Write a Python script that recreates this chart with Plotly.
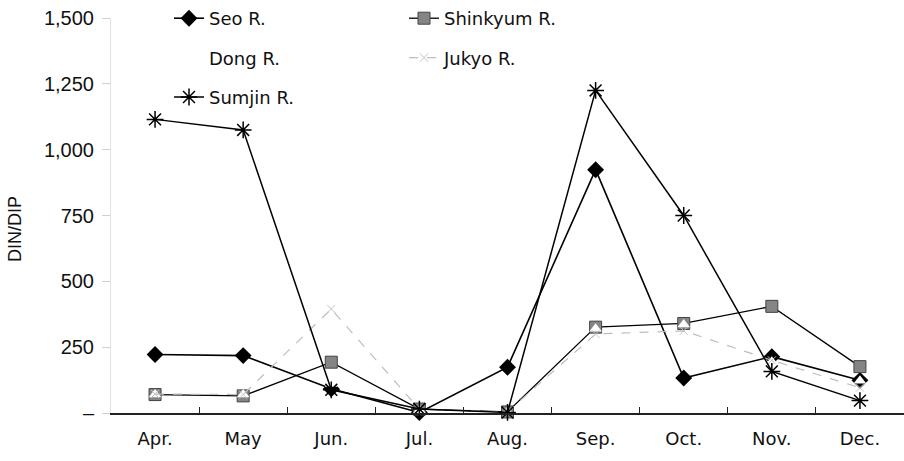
import plotly.graph_objects as go

months = ["Apr.", "May", "Jun.", "Jul.", "Aug.", "Sep.", "Oct.", "Nov.", "Dec."]

seo = [222, 218, 92, 2, 174, 924, 133, 214, 124]
shinkyum = [70, 65, 193, 15, 4, 326, 340, 405, 176]
dong = [70, 70, 110, 10, 5, 320, 336, 195, 122]
jukyo = [72, 70, 395, 14, 5, 300, 312, 200, 96]
sumjin = [1115, 1075, 88, 15, 2, 1225, 750, 158, 47]

y_tick_vals = [0, 250, 500, 750, 1000, 1250, 1500]
y_tick_text = ["–", "250", "500", "750", "1,000", "1,250", "1,500"]

W, H = 904, 461
ML, MR, MT, MB = 111, 0, 18, 48
PW = W - ML - MR
PH = H - MT - MB

LEG_FONT = dict(family="DejaVu Sans", size=18, color="#111111")

fig = go.Figure()

fig.add_trace(go.Scatter(
    x=months, y=seo, name="Seo R.", mode="lines+markers",
    line=dict(color="black", width=1.6),
    marker=dict(symbol="diamond", size=13, color="black"),
    legend="legend", legendgroup="seo", cliponaxis=False,
))
fig.add_trace(go.Scatter(
    x=months, y=shinkyum, name="Shinkyum R.", mode="lines+markers",
    line=dict(color="black", width=1.3),
    marker=dict(symbol="square", size=12, color="#858585",
                line=dict(color="#444444", width=1)),
    legend="legend2", legendgroup="shinkyum", cliponaxis=False,
))
fig.add_trace(go.Scatter(
    x=months, y=dong, name="Dong R.", mode="lines+markers",
    line=dict(color="rgba(255,255,255,0)", width=1),
    marker=dict(symbol="triangle-up", size=11, color="white"),
    legend="legend", legendgroup="dong", cliponaxis=False,
))
fig.add_trace(go.Scatter(
    x=months, y=jukyo, name="Jukyo R.", mode="lines+markers",
    line=dict(color="#bdbdbd", width=1.2, dash="dash"),
    marker=dict(symbol="x-thin-open", size=8, color="#c4c4c4",
                line=dict(color="#c4c4c4", width=1)),
    legend="legend2", legendgroup="jukyo", cliponaxis=False,
))
fig.add_trace(go.Scatter(
    x=months, y=sumjin, name="Sumjin R.", mode="lines+markers",
    line=dict(color="black", width=1.5),
    marker=dict(symbol="asterisk-open", size=14, color="black",
                line=dict(color="black", width=1.5)),
    legend="legend", legendgroup="sumjin", cliponaxis=False,
))

legend_common = dict(
    font=LEG_FONT, bgcolor="rgba(0,0,0,0)", borderwidth=0,
    orientation="v", xanchor="left", yanchor="top",
    tracegroupgap=13, itemwidth=30,
)

fig.update_layout(
    width=W, height=H,
    margin=dict(l=ML, r=MR, t=MT, b=MB, pad=0),
    paper_bgcolor="white", plot_bgcolor="white",
    font=dict(family="DejaVu Sans", size=18, color="#111111"),
    showlegend=True,
    legend=dict(x=(169 - ML) / PW, y=1 + 18 / PH, **legend_common),
    legend2=dict(x=(404 - ML) / PW, y=1 + 18 / PH, **legend_common),
    xaxis=dict(
        type="category", range=[-0.5, 8.5],
        showline=True, linecolor="#222222", linewidth=1.5,
        ticks="inside", tickson="boundaries", ticklen=6,
        tickcolor="#222222", tickwidth=1,
        showgrid=False, zeroline=False,
        tickfont=dict(family="DejaVu Sans", size=18, color="#111111"),
        ticklabelstandoff=9,
    ),
    yaxis=dict(
        range=[0, 1500],
        tickvals=y_tick_vals, ticktext=y_tick_text,
        showline=True, linecolor="#e2e2e2", linewidth=1,
        ticks="outside", ticklen=8, tickcolor="#d0d0d0",
        showgrid=False, zeroline=False,
        tickfont=dict(family="Liberation Sans", size=20, color="#111111"),
        ticklabelstandoff=4,
    ),
    annotations=[dict(
        text="DIN/DIP", textangle=-90,
        xref="paper", yref="paper",
        x=(15 - ML) / PW, y=(MT + PH - 229) / PH,
        xanchor="center", yanchor="middle", showarrow=False,
        font=dict(family="Liberation Sans", size=18, color="#111111"),
    )],
)

fig.write_html("out.html")
